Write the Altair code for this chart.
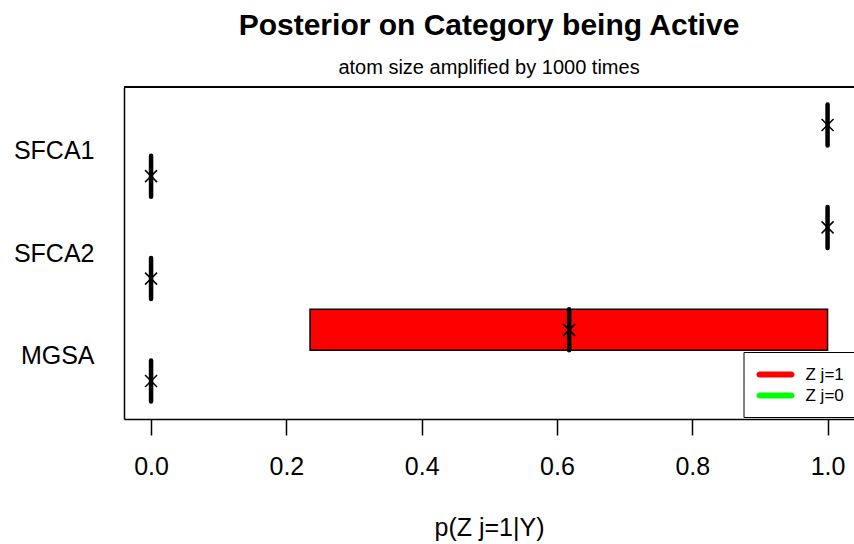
import altair as alt
import pandas as pd

# Posterior summaries per category and activity state (one boxplot row each)
groups = ["SFCA1", "SFCA1", "SFCA2", "SFCA2", "MGSA", "MGSA"]
states = ["Z j=1", "Z j=0", "Z j=1", "Z j=0", "Z j=1", "Z j=0"]
slots = [6, 5, 4, 3, 2, 1]
q1_vals = [1.0, 0.0, 1.0, 0.0, 0.235, 0.0]
median_vals = [1.0, 0.0, 1.0, 0.0, 0.618, 0.0]
q3_vals = [1.0, 0.0, 1.0, 0.0, 1.0, 0.0]
mean_vals = [1.0, 0.0, 1.0, 0.0, 0.618, 0.0]

# Category labels sit between the two rows of each category
label_names = ["SFCA1", "SFCA2", "MGSA"]
label_slots = [5.5, 3.5, 1.5]
x_ticks = [0.0, 0.2, 0.4, 0.6, 0.8, 1.0]

state_order = ["Z j=1", "Z j=0"]
state_colors = ["#FF0000", "#00FF00"]

FONT = "Liberation Sans"
W, H = 730, 332

df = pd.DataFrame({
    "group": groups, "state": states, "slot": slots,
    "q1": q1_vals, "median": median_vals, "q3": q3_vals, "mean": mean_vals,
})

label_expr = " : ".join(
    f"datum.value == {s} ? '{n}'" for s, n in zip(label_slots, label_names)
) + " : ''"

x_scale = alt.Scale(domain=[-0.04, -0.04 + W / 676.5], nice=False, zero=False)
y_scale = alt.Scale(domain=[0.26, 6.74], nice=False, zero=False)

x_axis = alt.Axis(
    values=x_ticks, format=".1f", grid=False,
    domainColor="black", domainWidth=1.5,
    tickColor="black", tickWidth=1.5, tickSize=16,
    labelFont=FONT, labelFontSize=25, labelColor="black",
    labelBaseline="alphabetic", labelPadding=39, labelFlush=False,
    title="p(Z j=1|Y)", titleFont=FONT, titleFontSize=25,
    titleFontWeight="normal", titleColor="black",
    titleBaseline="alphabetic", titleY=116,
)
y_axis = alt.Axis(
    values=label_slots, labelExpr=label_expr, grid=False,
    ticks=False, tickSize=0, domainColor="black", domainWidth=1.5,
    labelFont=FONT, labelFontSize=25, labelColor="black",
    labelPadding=30, title=None,
)

base = alt.Chart(df).transform_calculate(
    lo="datum.slot - 0.4", hi="datum.slot + 0.4"
)

legend_symbol = (
    "M-0.68,-0.32H2.68A0.32,0.32 0 0 1 2.68,0.32"
    "H-0.68A0.32,0.32 0 0 1 -0.68,-0.32Z"
)

boxes = base.mark_rect(strokeWidth=0).encode(
    x=alt.X("q1:Q", scale=x_scale, axis=x_axis),
    x2="q3:Q",
    y=alt.Y("lo:Q", scale=y_scale, axis=y_axis),
    y2="hi:Q",
    color=alt.Color(
        "state:N",
        scale=alt.Scale(domain=state_order, range=state_colors),
        legend=alt.Legend(
            title=None, orient="none", legendX=619.5, legendY=265,
            padding=13, fillColor="white", strokeColor="black",
            symbolType=legend_symbol, symbolSize=361, symbolStrokeWidth=0,
            labelFont=FONT, labelFontSize=17, labelColor="black",
            labelOffset=30, rowPadding=3,
        ),
    ),
)

outlines = base.mark_rect(fillOpacity=0, stroke="black", strokeWidth=1.5).encode(
    x="q1:Q", x2="q3:Q", y="lo:Q", y2="hi:Q"
)

medians = base.mark_rule(strokeWidth=4.5, strokeCap="round", color="black").encode(
    x="median:Q", y="lo:Q", y2="hi:Q"
)

means = base.mark_point(
    shape="M-1,-1L1,1M-1,1L1,-1", size=144, filled=False,
    stroke="black", strokeWidth=1.5, opacity=1,
).encode(x="mean:Q", y="slot:Q")

top_border = alt.Chart(df).mark_rule(color="black", strokeWidth=1.5).encode(
    x=alt.value(0), x2=alt.value(W), y=alt.value(0)
)

chart = alt.layer(boxes, outlines, medians, means, top_border).properties(
    width=W, height=H,
    autosize="none",
    padding={"left": 124, "top": 87, "right": 0, "bottom": 125},
    title=alt.TitleParams(
        text="Posterior on Category being Active",
        subtitle="atom size amplified by 1000 times",
        font=FONT, fontSize=30, fontWeight="bold", color="black",
        subtitleFont=FONT, subtitleFontSize=20, subtitleColor="black",
        subtitlePadding=17, anchor="middle", offset=8,
    ),
).configure_view(stroke=None)

chart.save("out.html", embed_options={"renderer": "svg", "actions": False})
